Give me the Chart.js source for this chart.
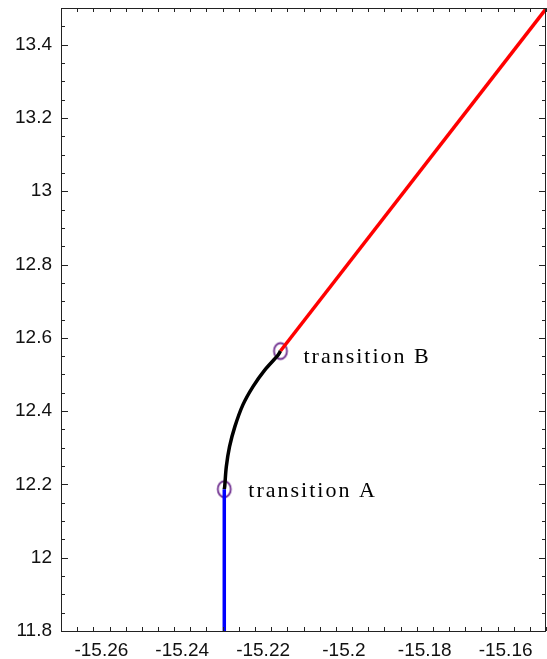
<!DOCTYPE html>
<html>
<head>
<meta charset="utf-8">
<script src="https://cdn.jsdelivr.net/npm/chart.js@4"></script>
<style>
  html, body { margin: 0; padding: 0; background: #fff; }
  #wrap { width: 547px; height: 659px; }
</style>
</head>
<body>
<div id="wrap"><canvas id="chart"></canvas></div>
<script>
// data
const blueX = [-15.2296, -15.2296]
const blueY = [11.75, 12.187]
const blackX = [-15.2296, -15.2295, -15.2291, -15.2283, -15.2270, -15.2250, -15.2225, -15.2196, -15.2163, -15.2157]
const blackY = [12.187, 12.194, 12.248, 12.303, 12.357, 12.417, 12.467, 12.512, 12.553, 12.564]
const redX = [-15.2157, -15.1495]
const redY = [12.564, 13.505]
const markX = [-15.2296, -15.2157]
const markY = [12.187, 12.564]
const markText = ['transition A', 'transition B']

const xTicks = [-15.26, -15.24, -15.22, -15.2, -15.18, -15.16]
const xLabels = ['-15.26', '-15.24', '-15.22', '-15.2', '-15.18', '-15.16']
const yTicks = [11.8, 12, 12.2, 12.4, 12.6, 12.8, 13, 13.2, 13.4]
const yLabels = ['11.8', '12', '12.2', '12.4', '12.6', '12.8', '13', '13.2', '13.4']

const pts = (xs, ys) => xs.map((x, i) => ({ x: x, y: ys[i] }))

// ellipse marker
const ring = document.createElement('canvas')
ring.width = 18
ring.height = 21
const rc = ring.getContext('2d')
rc.strokeStyle = '#6f2f8f'
rc.lineWidth = 1.8
rc.beginPath()
rc.ellipse(9, 10.5, 6.5, 8, 0, 0, Math.PI * 2)
rc.stroke()

// text offsets from the marker, in px
const textDx = [24, 23]
const textDy = [8, 12]

// inward ticks, minor ticks, frame and text labels
const framePlugin = {
  id: 'frame',
  afterDatasetsDraw(chart) {
    const { ctx, chartArea: a, scales } = chart
    const sx = scales.x, sy = scales.y
    ctx.save()
    ctx.strokeStyle = '#222'
    ctx.lineWidth = 1
    const tick = (x1, y1, x2, y2) => {
      ctx.beginPath()
      ctx.moveTo(x1, y1)
      ctx.lineTo(x2, y2)
      ctx.stroke()
    }
    for (let i = 0; i <= 30; i++) {
      const v = -15.27 + i * 0.004
      const px = Math.round(sx.getPixelForValue(v)) + 0.5
      const major = xTicks.some(t => Math.abs(t - v) < 1e-6)
      const len = major ? 7 : 4
      tick(px, a.bottom, px, a.bottom - len)
      tick(px, a.top, px, a.top + len)
    }
    for (let i = 0; i <= 34; i++) {
      const v = 11.8 + i * 0.05
      const py = Math.round(sy.getPixelForValue(v)) + 0.5
      const major = yTicks.some(t => Math.abs(t - v) < 1e-6)
      const len = major ? 7 : 4
      tick(a.left, py, a.left + len, py)
      tick(a.right, py, a.right - len, py)
    }
    ctx.strokeRect(Math.round(a.left) + 0.5, Math.round(a.top) + 0.5,
      Math.round(a.right - a.left) - 1, Math.round(a.bottom - a.top))

    ctx.fillStyle = '#000'
    ctx.font = '22px "Liberation Serif", serif'
    ctx.letterSpacing = '2px'
    ctx.textBaseline = 'alphabetic'
    markText.forEach((t, i) => {
      const px = sx.getPixelForValue(markX[i]) + textDx[i]
      const py = sy.getPixelForValue(markY[i]) + textDy[i]
      ctx.fillText(t, px, py)
    })
    ctx.restore()
  }
}

new Chart(document.getElementById('chart'), {
  type: 'scatter',
  data: {
    datasets: [
      { data: pts(blueX, blueY), showLine: true, borderColor: '#0000ff', borderWidth: 3.5, pointRadius: 0 },
      { data: pts(blackX, blackY), showLine: true, borderColor: '#000', borderWidth: 3.5, pointRadius: 0, tension: 0.3 },
      { data: pts(redX, redY), showLine: true, borderColor: '#ff0000', borderWidth: 3.5, pointRadius: 0 },
      { data: pts(markX, markY), pointStyle: ring, pointRadius: 9, pointHoverRadius: 9 }
    ]
  },
  options: {
    responsive: true,
    maintainAspectRatio: false,
    animation: false,
    events: [],
    layout: { autoPadding: false, padding: { top: 8, right: 1, left: 0, bottom: 0 } },
    plugins: { legend: { display: false }, tooltip: { enabled: false } },
    scales: {
      x: {
        type: 'linear',
        min: -15.27,
        max: -15.15,
        afterBuildTicks: s => { s.ticks = xTicks.map(v => ({ value: v })) },
        afterFit: s => { s.height = 28; s.paddingLeft = 0; s.paddingRight = 0 },
        grid: { display: false, drawTicks: false },
        border: { display: false },
        ticks: {
          autoSkip: false,
          maxRotation: 0,
          padding: 8,
          color: '#111',
          font: { family: '"Liberation Sans", Arial, sans-serif', size: 19 },
          callback: (v, i) => xLabels[i]
        }
      },
      y: {
        type: 'linear',
        min: 11.8,
        max: 13.5,
        afterBuildTicks: s => { s.ticks = yTicks.map(v => ({ value: v })) },
        afterFit: s => { s.width = 61; s.paddingTop = 0; s.paddingBottom = 0 },
        grid: { display: false, drawTicks: false },
        border: { display: false },
        ticks: {
          autoSkip: false,
          padding: 9,
          color: '#111',
          font: { family: '"Liberation Sans", Arial, sans-serif', size: 19 },
          callback: (v, i) => yLabels[i]
        }
      }
    }
  },
  plugins: [framePlugin]
})
</script>
</body>
</html>
